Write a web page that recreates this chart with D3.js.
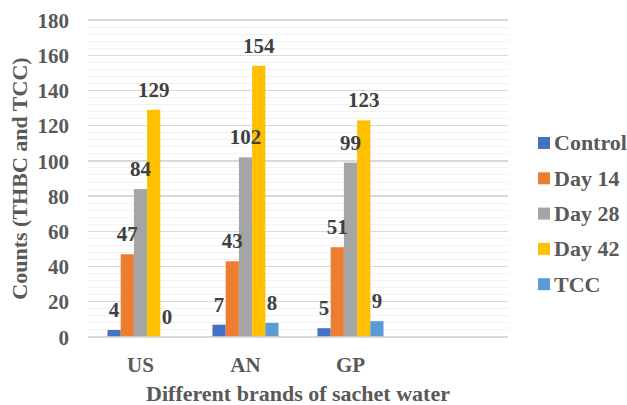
<!DOCTYPE html>
<html>
<head>
  <style>
  body { margin: 0; background: #fff; font-family: "Liberation Serif", "Times New Roman", serif; }
  .grid-minor { stroke: #f2f2f2; stroke-width: 1; shape-rendering: crispedges; }
  .grid-major { stroke: #d9d9d9; stroke-width: 1.3; shape-rendering: crispedges; }
  .tick text { font-family: "Liberation Serif", serif; font-weight: bold; font-size: 21px; fill: #595959; }
  .label { font-weight: bold; font-size: 21px; fill: #404040; text-anchor: middle; }
  .title { font-weight: bold; font-size: 22px; fill: #595959; text-anchor: middle; }
  .legend text { font-family: "Liberation Serif", serif; font-weight: bold; font-size: 22px; fill: #595959; }
  </style>
  <script src="https://d3js.org/d3.v7.min.js"></script>
</head>
<body>
<div id="container"></div>
<script>
var brands = ["US", "AN", "GP", ""]
var series = ["Control", "Day 14", "Day 28", "Day 42", "TCC"]
var colors = ["#4472C4", "#ED7D31", "#A5A5A5", "#FFC000", "#5B9BD5"]
var control = [4, 7, 5]
var day14 = [47, 43, 51]
var day28 = [84, 102, 99]
var day42 = [129, 154, 123]
var tcc = [0, 8, 9]
var yTicks = [0, 20, 40, 60, 80, 100, 120, 140, 160, 180]

var values = [control, day14, day28, day42, tcc]

var W = 627, H = 405,
    plotL = 88, plotR = 508, plotT = 20, plotB = 337

var svg = d3.select("#container").append("svg")
    .attr("width", W)
    .attr("height", H)

var x0 = d3.scaleBand()
  .domain(brands)
  .range([plotL, plotR])
  .paddingInner(0.371)
  .paddingOuter(0.1855)

var x1 = d3.scaleBand()
  .domain(series)
  .range([0, x0.bandwidth()])

var y = d3.scaleLinear()
  .domain([0, 180])
  .range([plotB, plotT])

// minor gridlines
svg.append("g").selectAll("line")
    .data(d3.range(0, 181, 4).filter(function(d) { return d % 20 != 0 }))
  .enter().append("line")
    .attr("class", "grid-minor")
    .attr("x1", plotL).attr("x2", plotR)
    .attr("y1", function(d) { return y(d) })
    .attr("y2", function(d) { return y(d) })

// major gridlines
svg.append("g").selectAll("line")
    .data(yTicks)
  .enter().append("line")
    .attr("class", "grid-major")
    .attr("x1", plotL).attr("x2", plotR)
    .attr("y1", function(d) { return y(d) })
    .attr("y2", function(d) { return y(d) })

var yax = d3.axisLeft(y)
  .tickValues(yTicks)
  .tickSize(0)
  .tickPadding(19)

svg.append("g")
    .attr("transform", "translate(" + plotL + ",0)")
    .call(yax)
    .call(function(g) { g.select(".domain").remove() })
    .selectAll("text").attr("dy", "0.34em")

var xax = d3.axisBottom(x0)
  .tickSize(0)
  .tickPadding(20)

svg.append("g")
    .attr("transform", "translate(0," + plotB + ")")
    .call(xax)
    .call(function(g) { g.select(".domain").remove() })

var groups = svg.selectAll(".brand")
    .data(brands.slice(0, 3))
  .enter().append("g")
    .attr("class", "brand")
    .attr("transform", function(d) { return "translate(" + x0(d) + ",0)" })

groups.selectAll("rect")
    .data(function(d, i) {
      return series.map(function(s, j) { return { s: s, v: values[j][i], c: colors[j] } })
    })
  .enter().append("rect")
    .attr("x", function(d) { return x1(d.s) })
    .attr("width", x1.bandwidth())
    .attr("y", function(d) { return y(d.v) })
    .attr("height", function(d) { return y(0) - y(d.v) })
    .attr("fill", function(d) { return d.c })

groups.selectAll(".label")
    .data(function(d, i) {
      return series.map(function(s, j) { return { s: s, v: values[j][i] } })
    })
  .enter().append("text")
    .attr("class", "label")
    .attr("x", function(d) { return x1(d.s) + x1.bandwidth() / 2 })
    .attr("y", function(d) { return y(d.v) - 13 })
    .text(function(d) { return d.v })

// baseline
svg.append("line")
    .attr("x1", plotL).attr("x2", plotR)
    .attr("y1", y(0)).attr("y2", y(0))
    .attr("stroke", "#d9d9d9")
    .attr("stroke-width", 1.5)

svg.append("text")
    .attr("class", "title")
    .attr("x", (plotL + plotR) / 2)
    .attr("y", 401)
    .text("Different brands of sachet water")

svg.append("text")
    .attr("class", "title")
    .attr("transform", "translate(27," + ((plotT + plotB) / 2) + ") rotate(-90)")
    .text("Counts (THBC and TCC)")

var legend = svg.append("g")
    .attr("class", "legend")
  .selectAll("g")
    .data(series)
  .enter().append("g")
    .attr("transform", function(d, i) { return "translate(538," + (143 + i * 35.3) + ")" })

legend.append("rect")
    .attr("x", 0).attr("y", -6)
    .attr("width", 12).attr("height", 12)
    .attr("fill", function(d, i) { return colors[i] })

legend.append("text")
    .attr("x", 16)
    .attr("dy", "0.34em")
    .text(function(d) { return d })
</script>
</body>
</html>
